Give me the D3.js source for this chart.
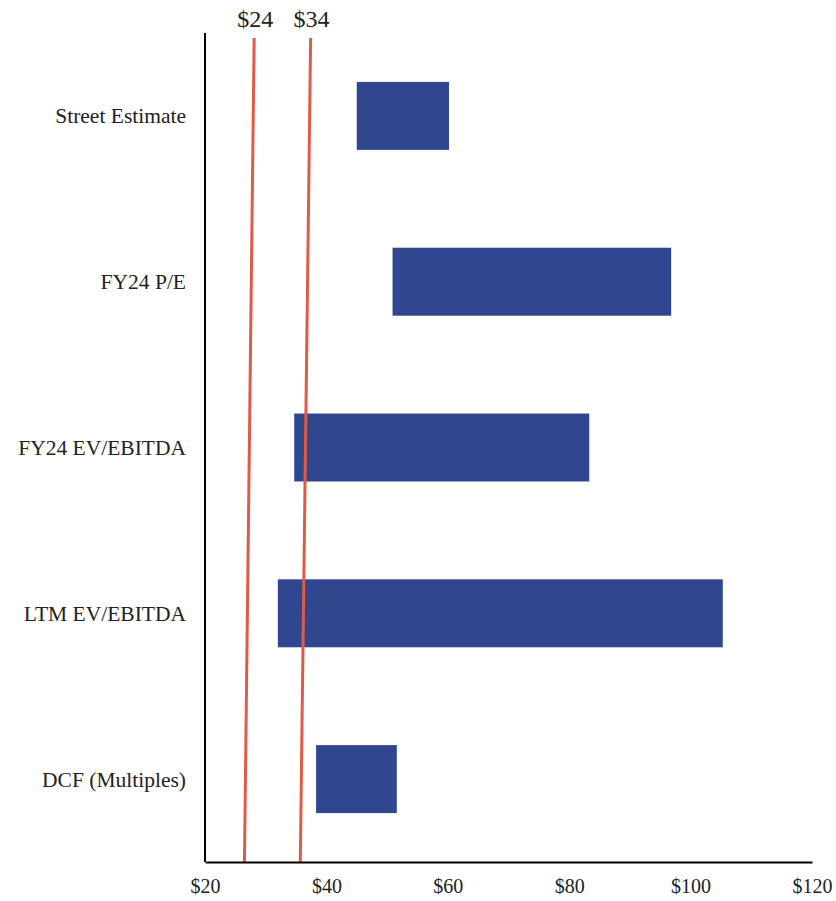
<!DOCTYPE html>
<html>
<head>
<meta charset="utf-8">
<script src="https://cdn.jsdelivr.net/npm/d3@7"></script>
<style>
  body { margin: 0; background: #fff; }
  svg text { font-family: "Liberation Serif", "DejaVu Serif", serif; fill: #222; }
</style>
</head>
<body>
<div id="chart"></div>
<script>
// 估值区间（football field）
const categories = ['Street Estimate', 'FY24 P/E', 'FY24 EV/EBITDA', 'LTM EV/EBITDA', 'DCF (Multiples)'];
const lowValues = [45, 50.9, 34.7, 32.0, 38.3];
const highValues = [60.2, 96.8, 83.3, 105.3, 51.6];
const xTicks = [20, 40, 60, 80, 100, 120];

// 参考线：标注值，以及画面上顶部/底部实际位置
const refLabels = ['$24', '$34'];
const refTop = [28.1, 37.4];
const refBottom = [26.5, 35.7];

const width = 836, height = 901;
const margin = { top: 33, right: 24, bottom: 39, left: 205 };

const svg = d3.select('#chart')
    .append('svg')
    .attr('width', width)
    .attr('height', height);

const x = d3.scaleLinear()
    .domain([20, 120])
    .range([margin.left, width - margin.right]);

const y = d3.scaleBand()
    .domain(categories)
    .range([margin.top, height - margin.bottom])
    .paddingInner(0.59)
    .paddingOuter(0.295);

const rows = categories.map((c, i) => ({ name: c, lo: lowValues[i], hi: highValues[i] }));

// 柱子
svg.append('g')
    .selectAll('rect')
    .data(rows)
    .join('rect')
    .attr('x', d => x(d.lo))
    .attr('y', d => y(d.name))
    .attr('width', d => x(d.hi) - x(d.lo))
    .attr('height', y.bandwidth())
    .attr('fill', '#30468e');

// 类别标签
svg.append('g')
    .selectAll('text')
    .data(categories)
    .join('text')
    .attr('x', 186)
    .attr('y', d => y(d) + y.bandwidth() / 2)
    .attr('dy', '0.35em')
    .attr('text-anchor', 'end')
    .style('font-size', '21.5px')
    .text(d => d);

// 参考线
const refs = refLabels.map((l, i) => ({ label: l, top: refTop[i], bottom: refBottom[i] }));
const refTopY = 38, axisY = height - margin.bottom;

svg.append('g')
    .selectAll('line')
    .data(refs)
    .join('line')
    .attr('x1', d => x(d.top))
    .attr('y1', refTopY)
    .attr('x2', d => x(d.bottom))
    .attr('y2', axisY)
    .attr('stroke', '#e05a48')
    .attr('stroke-width', 3);

svg.append('g')
    .selectAll('text')
    .data(refs)
    .join('text')
    .attr('x', d => x(d.top) + 1)
    .attr('y', 27)
    .attr('text-anchor', 'middle')
    .style('font-size', '24px')
    .text(d => d.label);

// 坐标轴
const xAxis = d3.axisBottom(x)
    .tickValues(xTicks)
    .tickSize(0)
    .tickPadding(17)
    .tickFormat(d => '$' + d);

const gx = svg.append('g')
    .attr('transform', `translate(0,${axisY})`)
    .call(xAxis);
gx.select('.domain').attr('stroke', '#000').attr('stroke-width', 2);
gx.selectAll('text')
    .style('font-size', '20px')
    .style('font-family', '"Liberation Serif", serif')
    .attr('fill', '#222');

svg.append('line')
    .attr('x1', margin.left)
    .attr('x2', margin.left)
    .attr('y1', margin.top)
    .attr('y2', axisY)
    .attr('stroke', '#000')
    .attr('stroke-width', 2);
</script>
</body>
</html>
